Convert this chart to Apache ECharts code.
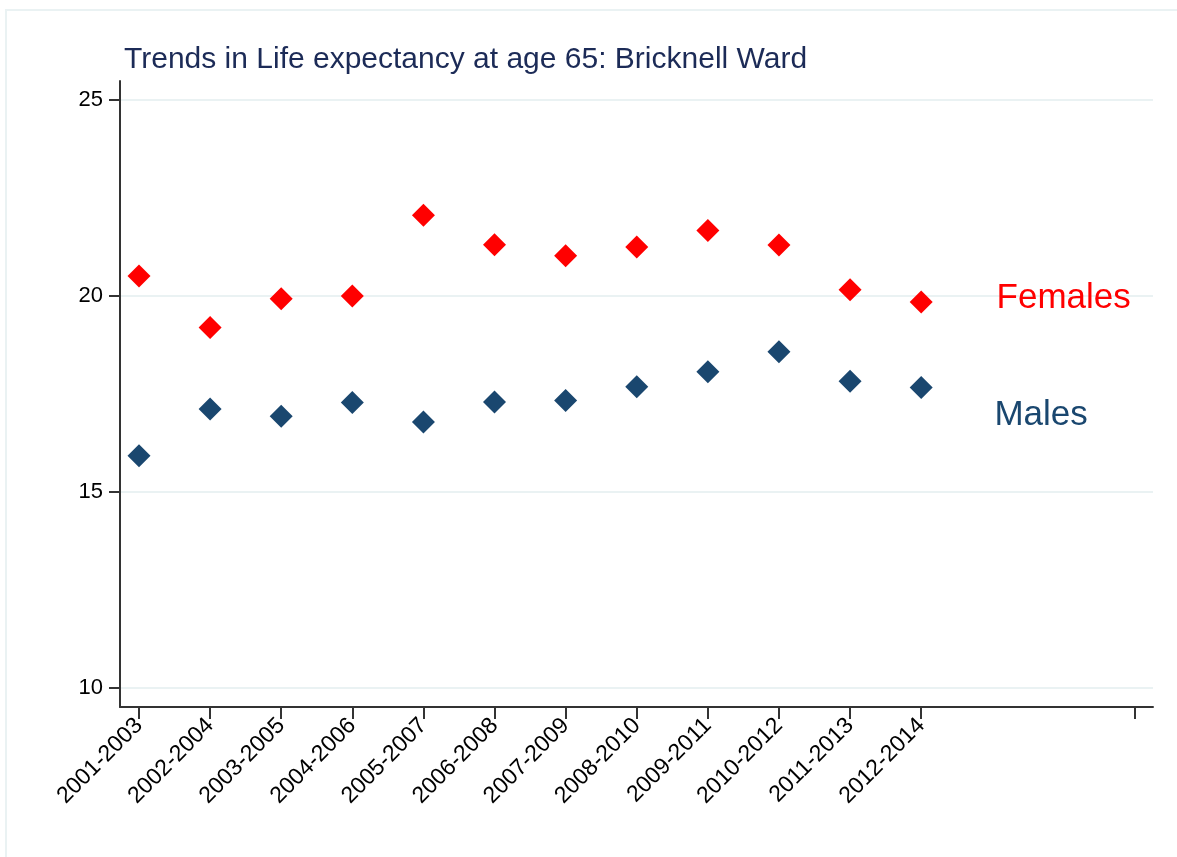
<!DOCTYPE html>
<html>
<head>
<meta charset="utf-8">
<script src="https://cdn.jsdelivr.net/npm/echarts@6/dist/echarts.min.js"></script>
<style>
html,body{margin:0;padding:0;background:#fff;}
#chart{width:1177px;height:857px;}
</style>
</head>
<body>
<div id="chart"></div>
<script>
const categories = ['2001-2003','2002-2004','2003-2005','2004-2006','2005-2007','2006-2008','2007-2009','2008-2010','2009-2011','2010-2012','2011-2013','2012-2014'];
const femalesLE = [20.50, 19.19, 19.92, 19.99, 22.05, 21.30, 21.02, 21.24, 21.66, 21.29, 20.15, 19.84];
const malesLE = [15.92, 17.11, 16.93, 17.28, 16.78, 17.29, 17.33, 17.68, 18.06, 18.57, 17.82, 17.66];
const yTicks = [10, 15, 20, 25];
const xTickPositions = [1,2,3,4,5,6,7,8,9,10,11,12,15];
const seriesNames = ['Females', 'Males'];
const titleText = 'Trends in Life expectancy at age 65: Bricknell Ward';

const FONT = '"Liberation Sans", Arial, sans-serif';
const RED = '#ff0000';
const NAVY = '#1a476f';
const AXIS = '#333333';
const GRID = '#eaf2f3';

const chart = echarts.init(document.getElementById('chart'), null, {renderer: 'canvas'});

const xLabelValues = categories.map((c, i) => i + 1);

chart.setOption({
  backgroundColor: '#ffffff',
  animation: false,
  graphic: [{
    type: 'rect',
    shape: {x: 6, y: 10, width: 1200, height: 900},
    style: {fill: 'none', stroke: GRID, lineWidth: 2},
    silent: true,
    z: -10
  }],
  title: {
    text: titleText,
    left: 124,
    top: 45,
    padding: 0,
    textStyle: {fontFamily: FONT, fontSize: 30, fontWeight: 'normal', color: '#1c2b57'}
  },
  grid: {left: 120, right: 24, top: 81, bottom: 150, containLabel: false},
  xAxis: {
    type: 'value',
    min: 0.733,
    max: 15.26,
    axisLine: {show: true, onZero: false, lineStyle: {color: AXIS, width: 2}},
    axisTick: {show: true, length: 12, customValues: xTickPositions, lineStyle: {color: AXIS, width: 2}},
    axisLabel: {
      show: true,
      customValues: xLabelValues,
      rotate: 45,
      margin: 15,
      fontFamily: FONT,
      fontSize: 23,
      color: '#000',
      formatter: v => categories[Math.round(v) - 1] || ''
    },
    splitLine: {show: false}
  },
  yAxis: {
    type: 'value',
    min: 9.52,
    max: 25.47,
    axisLine: {show: true, onZero: false, lineStyle: {color: AXIS, width: 2}},
    axisTick: {show: true, length: 11, customValues: yTicks, lineStyle: {color: AXIS, width: 2}},
    axisLabel: {customValues: yTicks, margin: 17, fontFamily: FONT, fontSize: 22, color: '#000'},
    splitLine: {show: true, lineStyle: {color: GRID, width: 2}}
  },
  series: [
    {
      name: seriesNames[0],
      type: 'scatter',
      symbol: 'diamond',
      symbolSize: 23,
      itemStyle: {color: RED, opacity: 1},
      data: femalesLE.map((v, i) => [i + 1, v]),
      z: 3
    },
    {
      name: seriesNames[1],
      type: 'scatter',
      symbol: 'diamond',
      symbolSize: 23,
      itemStyle: {color: NAVY, opacity: 1},
      data: malesLE.map((v, i) => [i + 1, v]),
      z: 3
    },
    {
      type: 'scatter',
      symbolSize: 0,
      silent: true,
      itemStyle: {opacity: 1},
      data: [
        {value: [13.06, 19.94], label: {formatter: seriesNames[0], color: RED}},
        {value: [13.03, 16.96], label: {formatter: seriesNames[1], color: NAVY}}
      ],
      label: {show: true, position: 'right', distance: 0, fontFamily: FONT, fontSize: 35},
      z: 4
    }
  ]
});
</script>
</body>
</html>
